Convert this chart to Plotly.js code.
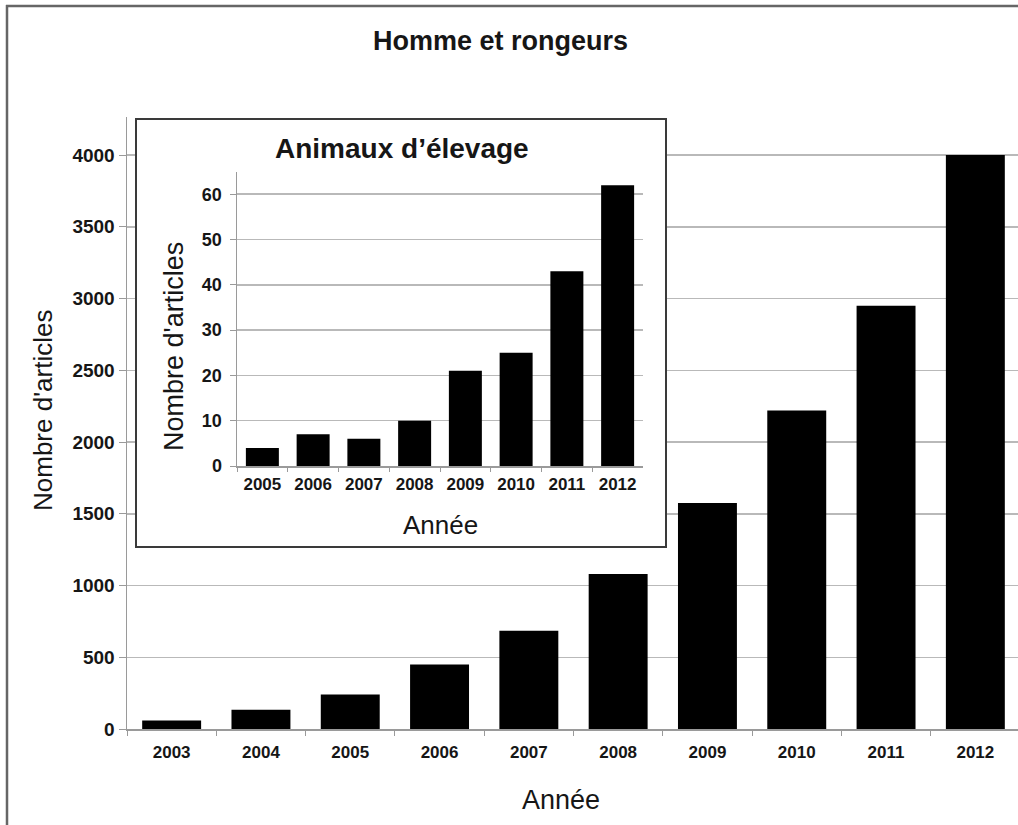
<!DOCTYPE html>
<html>
<head>
<meta charset="utf-8">
<script src="https://cdn.plot.ly/plotly-3.0.1.min.js"></script>
<style>html,body{margin:0;padding:0;background:#fff;overflow:hidden;}#chart{width:1018px;height:825px;}</style>
</head>
<body>
<div id="chart"></div>
<script>
// ---- data ----
const mainYears = ['2003','2004','2005','2006','2007','2008','2009','2010','2011','2012'];
const mainCounts = [60, 135, 240, 450, 685, 1080, 1575, 2220, 2950, 4000];
const insetYears = ['2005','2006','2007','2008','2009','2010','2011','2012'];
const insetCounts = [4, 7, 6, 10, 21, 25, 43, 62];
const mainTitle = 'Homme et rongeurs';
const insetTitle = 'Animaux d\u2019élevage';
const yTitle = "Nombre d'articles";
const xTitle = 'Année';

// ---- layout helpers ----
const W = 1018, H = 825;
const px = x => x / W;
const py = y => (H - y) / H;
const FONT = 'Arial, "Liberation Sans", sans-serif';
const TXT = '#161616';
const AX = '#9a9a9a';
const GRID = '#b9b9b9';

const traces = [
  {type:'bar', x: mainYears, y: mainCounts, xaxis:'x', yaxis:'y',
   marker:{color:'#000', line:{width:0}}, width:0.66, hoverinfo:'x+y'},
  {type:'scatter', x:[], y:[], xaxis:'x2', yaxis:'y2', showlegend:false, hoverinfo:'skip'},
  {type:'bar', x: insetYears, y: insetCounts, xaxis:'x3', yaxis:'y3',
   marker:{color:'#000', line:{width:0}}, width:0.65, hoverinfo:'x+y'}
];

const tickBold = (s) => ({family: FONT, size: s, color: TXT, weight: 700});

const layout = {
  width: W, height: H,
  margin: {l:0, r:0, t:0, b:0, pad:0},
  paper_bgcolor:'#fff', plot_bgcolor:'#fff',
  showlegend:false,
  xaxis: {domain:[px(127), 1], anchor:'y', type:'category',
    range:[-0.5, -0.5 + 891/89.3], showgrid:false, zeroline:false,
    showline:true, linecolor:AX, linewidth:1.5,
    ticks:'outside', tickson:'boundaries', ticklen:5, tickcolor:AX,
    tickfont: tickBold(17), ticklabelstandoff: 7, automargin:false, fixedrange:true},
  yaxis: {domain:[py(729), py(117)], anchor:'x', range:[0, 4265], dtick:500, tick0:0,
    showgrid:true, gridcolor:GRID, gridwidth:1.5, zeroline:false,
    showline:true, linecolor:AX, linewidth:1.5,
    ticks:'outside', ticklen:7, tickcolor:AX,
    tickfont: tickBold(19), automargin:false, fixedrange:true},
  // blank box holding the inset
  xaxis2: {domain:[px(137), px(665)], anchor:'y2', range:[0,1], showgrid:false, zeroline:false,
    showticklabels:false, ticks:'', showline:true, mirror:true, linecolor:'#3a3a3a', linewidth:2,
    automargin:false, fixedrange:true},
  yaxis2: {domain:[py(546), py(120)], anchor:'x2', range:[0,1], showgrid:false, zeroline:false,
    showticklabels:false, ticks:'', showline:true, mirror:true, linecolor:'#3a3a3a', linewidth:2,
    automargin:false, fixedrange:true},
  // inset chart
  xaxis3: {domain:[px(237), px(643)], anchor:'y3', type:'category', range:[-0.5, 7.5],
    showgrid:false, zeroline:false, showline:true, linecolor:AX, linewidth:1.5,
    ticks:'outside', tickson:'boundaries', ticklen:4, tickcolor:AX,
    tickfont: tickBold(17), ticklabelstandoff: 2, automargin:false, fixedrange:true},
  yaxis3: {domain:[py(466), py(172)], anchor:'x3', range:[0, 64.9], dtick:10, tick0:0,
    showgrid:true, gridcolor:GRID, gridwidth:1.5, zeroline:false,
    showline:true, linecolor:AX, linewidth:1.5,
    ticks:'outside', ticklen:6, tickcolor:AX,
    tickfont: tickBold(18), ticklabelstandoff: 4, automargin:false, fixedrange:true},
  shapes: [
    {type:'line', xref:'paper', yref:'paper', x0:px(7), x1:px(7), y0:py(5), y1:0,
     line:{color:'#666', width:2.5}, layer:'above'},
    {type:'line', xref:'paper', yref:'paper', x0:px(6), x1:1, y0:py(6), y1:py(6),
     line:{color:'#666', width:2.5}, layer:'above'}
  ],
  annotations: [
    {text: mainTitle, xref:'paper', yref:'paper', x:px(500), y:py(41), xanchor:'center', yanchor:'middle',
     showarrow:false, font:{family:FONT, size:27, color:TXT, weight:700}},
    {text: yTitle, xref:'paper', yref:'paper', x:px(43), y:py(411), xanchor:'center', yanchor:'middle',
     textangle:-90, showarrow:false, font:{family:FONT, size:26, color:TXT}},
    {text: xTitle, xref:'paper', yref:'paper', x:px(561), y:py(800), xanchor:'center', yanchor:'middle',
     showarrow:false, font:{family:FONT, size:27, color:TXT}},
    {text: insetTitle, xref:'paper', yref:'paper', x:px(402), y:py(148), xanchor:'center', yanchor:'middle',
     showarrow:false, font:{family:FONT, size:28, color:TXT, weight:700}},
    {text: yTitle, xref:'paper', yref:'paper', x:px(174), y:py(347), xanchor:'center', yanchor:'middle',
     textangle:-90, showarrow:false, font:{family:FONT, size:27, color:TXT}},
    {text: xTitle, xref:'paper', yref:'paper', x:px(440), y:py(525), xanchor:'center', yanchor:'middle',
     showarrow:false, font:{family:FONT, size:26, color:TXT}}
  ]
};

Plotly.newPlot('chart', traces, layout, {staticPlot:true, displayModeBar:false});
</script>
</body>
</html>
